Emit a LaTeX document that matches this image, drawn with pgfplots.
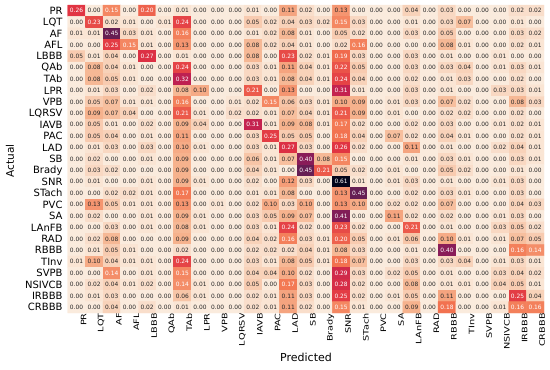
\documentclass[border=0pt]{standalone}
\usepackage{pgfplots}
\pgfplotsset{compat=1.18}
\usepackage{pgfplotstable}
\usepackage{fontspec}
\setmainfont{DejaVu Sans}
\definecolor{annodark}{RGB}{38,38,38}
% confusion matrix, row-major (rows = Actual, columns = Predicted)
\pgfplotstableread[row sep=\\]{
v\\
0.26\\0.00\\0.15\\0.00\\0.20\\0.00\\0.01\\0.00\\0.00\\0.00\\0.01\\0.00\\0.11\\0.02\\0.00\\0.13\\0.00\\0.00\\0.00\\0.04\\0.00\\0.03\\0.00\\0.00\\0.00\\0.02\\0.02\\
0.00\\0.23\\0.02\\0.01\\0.00\\0.01\\0.24\\0.00\\0.00\\0.00\\0.05\\0.02\\0.04\\0.03\\0.02\\0.15\\0.03\\0.00\\0.00\\0.01\\0.00\\0.03\\0.07\\0.00\\0.00\\0.01\\0.00\\
0.01\\0.01\\0.45\\0.03\\0.01\\0.00\\0.16\\0.00\\0.00\\0.00\\0.01\\0.02\\0.08\\0.01\\0.00\\0.05\\0.02\\0.00\\0.00\\0.03\\0.00\\0.05\\0.00\\0.00\\0.00\\0.03\\0.02\\
0.00\\0.00\\0.25\\0.15\\0.01\\0.00\\0.13\\0.00\\0.00\\0.00\\0.08\\0.02\\0.04\\0.01\\0.00\\0.02\\0.16\\0.00\\0.00\\0.00\\0.00\\0.08\\0.01\\0.00\\0.00\\0.02\\0.01\\
0.05\\0.01\\0.04\\0.00\\0.27\\0.00\\0.01\\0.00\\0.00\\0.00\\0.08\\0.00\\0.23\\0.02\\0.01\\0.19\\0.03\\0.00\\0.00\\0.03\\0.00\\0.01\\0.00\\0.00\\0.01\\0.00\\0.00\\
0.00\\0.08\\0.04\\0.01\\0.00\\0.00\\0.24\\0.00\\0.00\\0.00\\0.03\\0.01\\0.11\\0.04\\0.01\\0.22\\0.05\\0.00\\0.00\\0.03\\0.00\\0.03\\0.04\\0.00\\0.01\\0.03\\0.01\\
0.00\\0.08\\0.05\\0.01\\0.00\\0.00\\0.32\\0.00\\0.00\\0.00\\0.03\\0.01\\0.08\\0.04\\0.01\\0.24\\0.04\\0.00\\0.00\\0.02\\0.00\\0.01\\0.03\\0.00\\0.00\\0.02\\0.00\\
0.00\\0.01\\0.03\\0.00\\0.02\\0.00\\0.08\\0.10\\0.00\\0.00\\0.21\\0.00\\0.13\\0.00\\0.00\\0.31\\0.01\\0.00\\0.00\\0.03\\0.00\\0.01\\0.00\\0.00\\0.03\\0.03\\0.01\\
0.00\\0.05\\0.07\\0.01\\0.01\\0.00\\0.16\\0.00\\0.00\\0.01\\0.02\\0.15\\0.06\\0.03\\0.01\\0.10\\0.09\\0.00\\0.01\\0.03\\0.00\\0.07\\0.02\\0.00\\0.00\\0.08\\0.03\\
0.00\\0.09\\0.07\\0.04\\0.00\\0.00\\0.21\\0.01\\0.00\\0.02\\0.02\\0.01\\0.07\\0.04\\0.01\\0.21\\0.09\\0.00\\0.01\\0.00\\0.00\\0.02\\0.02\\0.00\\0.00\\0.02\\0.00\\
0.00\\0.05\\0.01\\0.00\\0.02\\0.00\\0.09\\0.04\\0.00\\0.00\\0.31\\0.01\\0.09\\0.08\\0.01\\0.17\\0.02\\0.00\\0.00\\0.02\\0.00\\0.03\\0.00\\0.00\\0.01\\0.02\\0.01\\
0.00\\0.05\\0.04\\0.00\\0.01\\0.00\\0.11\\0.00\\0.00\\0.00\\0.03\\0.25\\0.05\\0.05\\0.00\\0.18\\0.04\\0.00\\0.07\\0.02\\0.00\\0.04\\0.01\\0.00\\0.00\\0.02\\0.01\\
0.00\\0.01\\0.03\\0.00\\0.03\\0.00\\0.10\\0.01\\0.00\\0.00\\0.03\\0.01\\0.27\\0.03\\0.00\\0.26\\0.02\\0.00\\0.00\\0.11\\0.00\\0.01\\0.00\\0.00\\0.02\\0.04\\0.01\\
0.00\\0.02\\0.00\\0.00\\0.01\\0.00\\0.09\\0.00\\0.00\\0.00\\0.06\\0.01\\0.07\\0.40\\0.08\\0.15\\0.00\\0.00\\0.00\\0.01\\0.00\\0.03\\0.01\\0.00\\0.00\\0.03\\0.01\\
0.00\\0.03\\0.02\\0.00\\0.00\\0.00\\0.09\\0.00\\0.00\\0.00\\0.04\\0.01\\0.00\\0.45\\0.21\\0.05\\0.02\\0.00\\0.01\\0.00\\0.00\\0.05\\0.02\\0.00\\0.00\\0.01\\0.00\\
0.00\\0.01\\0.00\\0.00\\0.01\\0.00\\0.09\\0.01\\0.00\\0.00\\0.02\\0.00\\0.12\\0.03\\0.00\\0.61\\0.01\\0.00\\0.01\\0.03\\0.00\\0.01\\0.00\\0.00\\0.01\\0.03\\0.00\\
0.00\\0.00\\0.02\\0.02\\0.01\\0.00\\0.17\\0.00\\0.00\\0.00\\0.01\\0.01\\0.08\\0.00\\0.00\\0.13\\0.45\\0.00\\0.00\\0.02\\0.00\\0.03\\0.01\\0.00\\0.00\\0.03\\0.00\\
0.00\\0.13\\0.05\\0.01\\0.01\\0.00\\0.13\\0.00\\0.01\\0.00\\0.02\\0.10\\0.03\\0.10\\0.00\\0.13\\0.10\\0.00\\0.02\\0.02\\0.00\\0.07\\0.00\\0.00\\0.00\\0.04\\0.03\\
0.00\\0.02\\0.00\\0.00\\0.01\\0.00\\0.09\\0.01\\0.00\\0.00\\0.03\\0.05\\0.09\\0.07\\0.00\\0.41\\0.00\\0.00\\0.11\\0.02\\0.00\\0.02\\0.00\\0.00\\0.01\\0.03\\0.00\\
0.00\\0.00\\0.03\\0.00\\0.01\\0.00\\0.08\\0.01\\0.00\\0.00\\0.03\\0.01\\0.24\\0.02\\0.00\\0.23\\0.02\\0.00\\0.00\\0.21\\0.00\\0.01\\0.00\\0.00\\0.03\\0.05\\0.02\\
0.00\\0.02\\0.08\\0.00\\0.00\\0.00\\0.09\\0.00\\0.00\\0.00\\0.04\\0.02\\0.16\\0.03\\0.01\\0.20\\0.05\\0.00\\0.01\\0.06\\0.00\\0.10\\0.01\\0.00\\0.01\\0.07\\0.05\\
0.00\\0.01\\0.05\\0.01\\0.00\\0.00\\0.02\\0.00\\0.00\\0.00\\0.02\\0.02\\0.02\\0.04\\0.01\\0.08\\0.03\\0.00\\0.00\\0.01\\0.00\\0.40\\0.00\\0.00\\0.00\\0.16\\0.14\\
0.01\\0.10\\0.04\\0.01\\0.01\\0.00\\0.24\\0.00\\0.00\\0.00\\0.03\\0.01\\0.08\\0.05\\0.01\\0.18\\0.07\\0.00\\0.00\\0.03\\0.00\\0.03\\0.04\\0.00\\0.01\\0.03\\0.01\\
0.00\\0.00\\0.14\\0.00\\0.01\\0.00\\0.15\\0.00\\0.00\\0.00\\0.04\\0.04\\0.10\\0.02\\0.00\\0.29\\0.03\\0.00\\0.02\\0.05\\0.00\\0.01\\0.00\\0.00\\0.03\\0.04\\0.02\\
0.00\\0.02\\0.04\\0.01\\0.02\\0.00\\0.14\\0.01\\0.00\\0.00\\0.05\\0.00\\0.17\\0.03\\0.00\\0.28\\0.02\\0.00\\0.00\\0.08\\0.00\\0.01\\0.01\\0.00\\0.04\\0.05\\0.01\\
0.00\\0.01\\0.03\\0.00\\0.00\\0.00\\0.06\\0.01\\0.00\\0.00\\0.02\\0.01\\0.11\\0.03\\0.00\\0.25\\0.02\\0.00\\0.01\\0.05\\0.00\\0.11\\0.00\\0.00\\0.00\\0.25\\0.04\\
0.00\\0.00\\0.04\\0.00\\0.02\\0.00\\0.01\\0.00\\0.00\\0.00\\0.02\\0.01\\0.11\\0.02\\0.00\\0.15\\0.01\\0.00\\0.00\\0.09\\0.00\\0.18\\0.00\\0.00\\0.01\\0.16\\0.16\\
}\cmdata
\pgfplotstablecreatecol[create col/expr={floor((\pgfplotstablerow+0.5)/27)}]{cy}{\cmdata}
\pgfplotstablecreatecol[create col/expr={round(\pgfplotstablerow-27*\thisrow{cy})}]{cx}{\cmdata}
\pgfplotsset{
  anno/.style={only marks, mark=*, mark size=0pt, mark options={draw=none, fill=none},
    point meta=explicit,
    nodes near coords={\pgfmathprintnumber[fixed,fixed zerofill,precision=2,assume math mode=true]{\pgfplotspointmeta}},
    nodes near coords style={anchor=center, inner sep=0pt, font=\fontsize{5.9}{6}\selectfont, text=#1}},
}
\begin{document}
\begin{tikzpicture}
\useasboundingbox (0,0) rectangle (550pt,370pt);
\begin{axis}[
  at={(67.7pt,57pt)}, anchor=south west,
  scale only axis, width=476.3pt, height=308pt,
  xmin=-0.5, xmax=26.5, ymin=-0.5, ymax=26.5,
  y dir=reverse,
  axis line style={draw=none},
  major tick length=0pt,
  xtick={0,...,26}, ytick={0,...,26},
  xticklabels={PR,LQT,AF,AFL,LBBB,QAb,TAb,LPR,VPB,LQRSV,IAVB,PAC,LAD,SB,Brady,SNR,STach,PVC,SA,LAnFB,RAD,RBBB,TInv,SVPB,NSIVCB,IRBBB,CRBBB},
  yticklabels={PR,LQT,AF,AFL,LBBB,QAb,TAb,LPR,VPB,LQRSV,IAVB,PAC,LAD,SB,Brady,SNR,STach,PVC,SA,LAnFB,RAD,RBBB,TInv,SVPB,NSIVCB,IRBBB,CRBBB},
  xticklabel style={rotate=90, xscale=1.3, anchor=east, inner sep=0pt, yshift=-7pt, font=\fontsize{7.5}{8}\selectfont},
  yticklabel style={anchor=east, inner sep=0pt, xshift=-5pt, font=\fontsize{10}{10}\selectfont},
  colormap={rocketr}{rgb255(0pt)=(250,235,221) rgb255(1pt)=(246,180,143) rgb255(2pt)=(243,118,81) rgb255(3pt)=(225,51,66) rgb255(4pt)=(173,23,89) rgb255(5pt)=(112,31,87) rgb255(6pt)=(53,25,62) rgb255(7pt)=(3,5,26)},
  point meta min=0, point meta max=0.61,
  clip=false,
]
\addplot[matrix plot*, mesh/cols=27, point meta=explicit] table[x=cx, y=cy, meta=v] {\cmdata};
\addplot[anno=annodark, restrict expr to domain={\thisrow{v}}{-1:0.135}] table[x=cx, y=cy, meta=v] {\cmdata};
\addplot[anno=white, restrict expr to domain={\thisrow{v}}{0.135:1}] table[x=cx, y=cy, meta=v] {\cmdata};
\end{axis}
\node[font=\fontsize{11}{12}\selectfont] at (306pt,13pt) {Predicted};
\node[font=\fontsize{10.5}{12}\selectfont, rotate=90] at (10pt,209pt) {Actual};
\end{tikzpicture}
\end{document}
